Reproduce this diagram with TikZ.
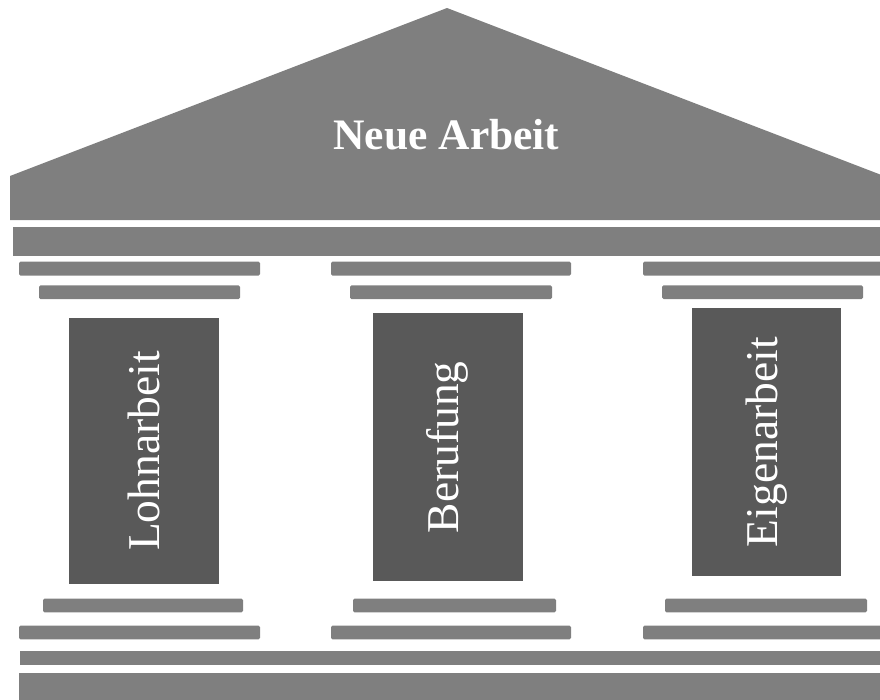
\documentclass[tikz,border=0pt]{standalone}
\usepackage{fontspec}
\setmainfont{Liberation Serif}
\usetikzlibrary{positioning}
\definecolor{stone}{HTML}{7F7F7F}
\definecolor{shaft}{HTML}{595959}
\tikzset{slab/.style={fill=stone,rounded corners=1.5pt},
  column/.style={fill=shaft,text=white,inner sep=0pt,rotate=90,minimum height=150pt,
    font=\fontsize{45.5}{45.5}\selectfont},
  gable/.style={text=white,font=\fontsize{43.5}{43.5}\selectfont\bfseries}}

\begin{document}
\begin{tikzpicture}[x=1pt,y=-1pt]
\useasboundingbox (0,0) rectangle (880,699);
% roof and architrave
\fill[stone] (10,220) -- (10,176) -- (447,8) -- (884,176) -- (884,220) -- cycle;
\node[gable] (roof) at (446.5,135) {Neue Arbeit};
\fill[stone] (13,226.7) rectangle (884,255.7);
% capitals and bases, one set per column
\foreach \wa/\wb/\na/\nb/\ba/\bb in {19/260/39/240/43/243,331/571/350/552/353/556,643/884/662/863/665/867}{
  \fill[slab] (\wa,261.7) rectangle (\wb,275.7);
  \fill[slab] (\na,285.3) rectangle (\nb,299);
  \fill[slab] (\ba,598.7) rectangle (\bb,612.3);
  \fill[slab] (\wa,625.7) rectangle (\wb,639.3);
}
% shafts
\node[column,minimum width=266pt] (lohn) at (143.6,451) {Lohnarbeit};
\node[column,minimum width=267.7pt] (beruf) at (447.7,447.2) {Berufung};
\node[column,minimum width=267.7pt,minimum height=149pt] (eigen) at (766.2,442.2) {Eigenarbeit};
% stylobate
\fill[stone] (20,651) rectangle (884,665.3);
\fill[stone] (19,673) rectangle (884,704);
\end{tikzpicture}
\end{document}
